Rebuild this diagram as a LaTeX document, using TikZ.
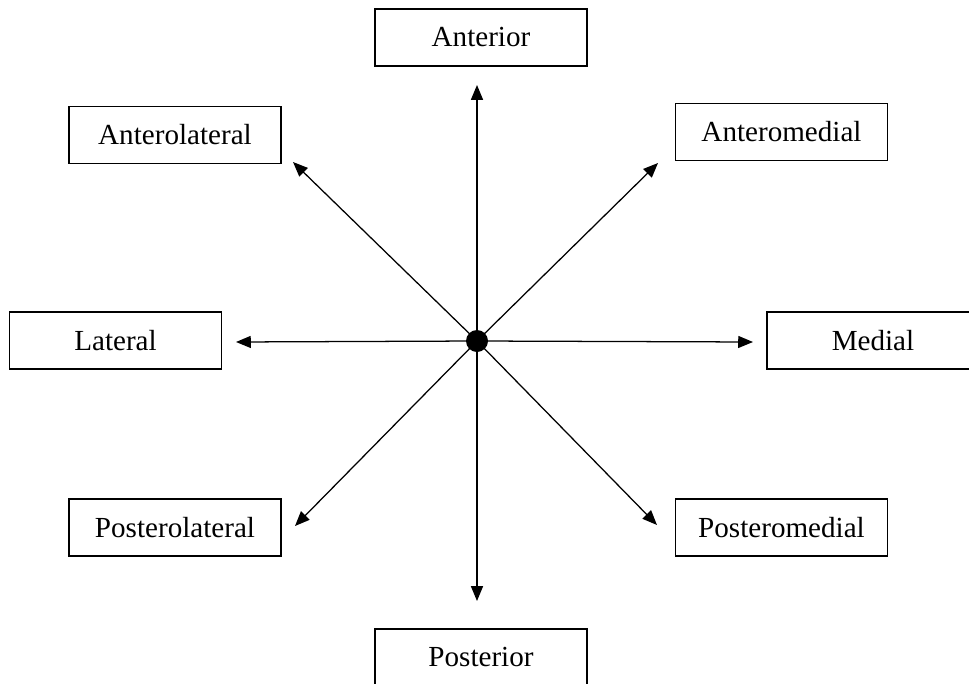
\documentclass[tikz,border=0pt]{standalone}
\usepackage{fontspec}
\setmainfont{Liberation Serif}
\usetikzlibrary{arrows.meta}

\begin{document}
\begin{tikzpicture}[x=0.025cm,y=-0.025cm,dirbox/.style={draw,line width=1.2pt,minimum width=5.3cm,minimum height=1.425cm,inner sep=0pt,font=\fontsize{20.7}{24}\selectfont},arr/.style={-{Triangle[length=10.5pt,width=8.5pt]},line width=0.9pt}]
\clip (0,0) rectangle (969,684);
% direction boxes
\node[dirbox] (ant) at (481,37.5) {Anterior};
\node[dirbox] (antlat) at (175,135) {Anterolateral};
\node[dirbox] (antmed) at (781.5,132) {Anteromedial};
\node[dirbox] (lat) at (115.5,340.5) {Lateral};
\node[dirbox] (med) at (873,340.5) {Medial};
\node[dirbox] (postlat) at (175,527.5) {Posterolateral};
\node[dirbox] (postmed) at (781.5,527.5) {Posteromedial};
\node[dirbox] (post) at (481,657.5) {Posterior};
% arrow tips
\coordinate (tipant) at (477,85);
\coordinate (tipantlat) at (293,162);
\coordinate (tipantmed) at (658,163);
\coordinate (tiplat) at (236,342);
\coordinate (tipmed) at (753,342);
\coordinate (tippostlat) at (295,526);
\coordinate (tippostmed) at (657,525);
\coordinate (tippost) at (477,601);
\coordinate (o) at (477,341);
\foreach \t in {tipant,tipantlat,tipantmed,tiplat,tipmed,tippostlat,tippostmed,tippost}
  \draw[arr] (o)--(\t);
\node[circle,fill,inner sep=0pt,minimum size=0.55cm] (dot) at (o) {};
\end{tikzpicture}
\end{document}
